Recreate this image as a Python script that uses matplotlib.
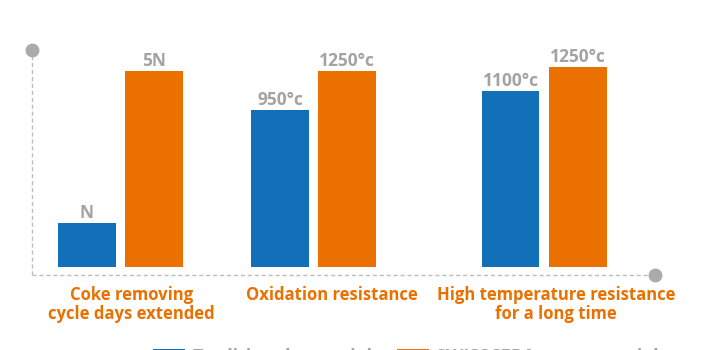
import matplotlib.pyplot as plt
import numpy as np

categories = ['Coke removing\ncycle days extended', 'Oxidation resistance',
              'High temperature resistance\nfor a long time']
# relative bar heights as drawn in the chart
traditional = [44, 157, 176]
new = [196, 196, 200]
traditional_labels = ['N', '950°c', '1100°c']
new_labels = ['5N', '1250°c', '1250°c']
series_names = ['Traditional materials', 'SWISSCERA new materials']

blue = '#1170b8'
orange = '#ea7000'
grey = '#a3a3a3'

plt.rcParams['font.family'] = ['Open Sans', 'DejaVu Sans']

fig = plt.figure(figsize=(7.1, 3.5), dpi=100)
ax = fig.add_axes([0.0451, 0.2143, 0.8775, 0.643])

pos = np.array([0.142, 0.452, 0.822])
w = 0.093
off = 0.054
b1 = ax.bar(pos - off, traditional, w, color=blue, label=series_names[0])
b2 = ax.bar(pos + off, new, w, color=orange, label=series_names[1])

for bars, labs in ((b1, traditional_labels), (b2, new_labels)):
    for b, t in zip(bars, labs):
        ax.text(b.get_x() + b.get_width() / 2, b.get_height() + 1, t,
                ha='center', va='bottom', fontsize=12.5, fontweight='bold',
                color=grey)

ax.set_xlim(0, 1)
ax.set_ylim(-8, 217)
for s in ax.spines.values():
    s.set_visible(False)
ax.set_xticks([])
ax.set_yticks([])

# dashed axes with dot ends
ax.plot([0, 0], [-8, 217], ls=(0, (3, 2)), color='#bdbdbd', lw=1,
        clip_on=False)
ax.plot([0, 1], [-8, -8], ls=(0, (3, 2)), color='#bdbdbd', lw=1,
        clip_on=False)
ax.plot([0], [217], 'o', ms=9, color='#ababab', clip_on=False)
ax.plot([1], [-8], 'o', ms=9, color='#ababab', clip_on=False)

# category labels are set a little right of their bar groups
lab_shift = [0.018, 0.029, 0.019]
for x, d, c in zip(pos, lab_shift, categories):
    ax.text(x + d, -19, c, ha='center', va='top', fontsize=12,
            fontweight='bold', color=orange, linespacing=1.1)

# legend sits at the bottom edge, partly outside the picture as in the original
fig.legend(loc='upper left', bbox_to_anchor=(0.2, 0.036), ncol=2,
           frameon=False, handlelength=1.8, handleheight=0.9,
           handletextpad=0.4, columnspacing=0.9, borderaxespad=0.2,
           labelcolor=grey, prop={'weight': 'bold', 'size': 13})

fig.savefig('out.png', dpi=100)
